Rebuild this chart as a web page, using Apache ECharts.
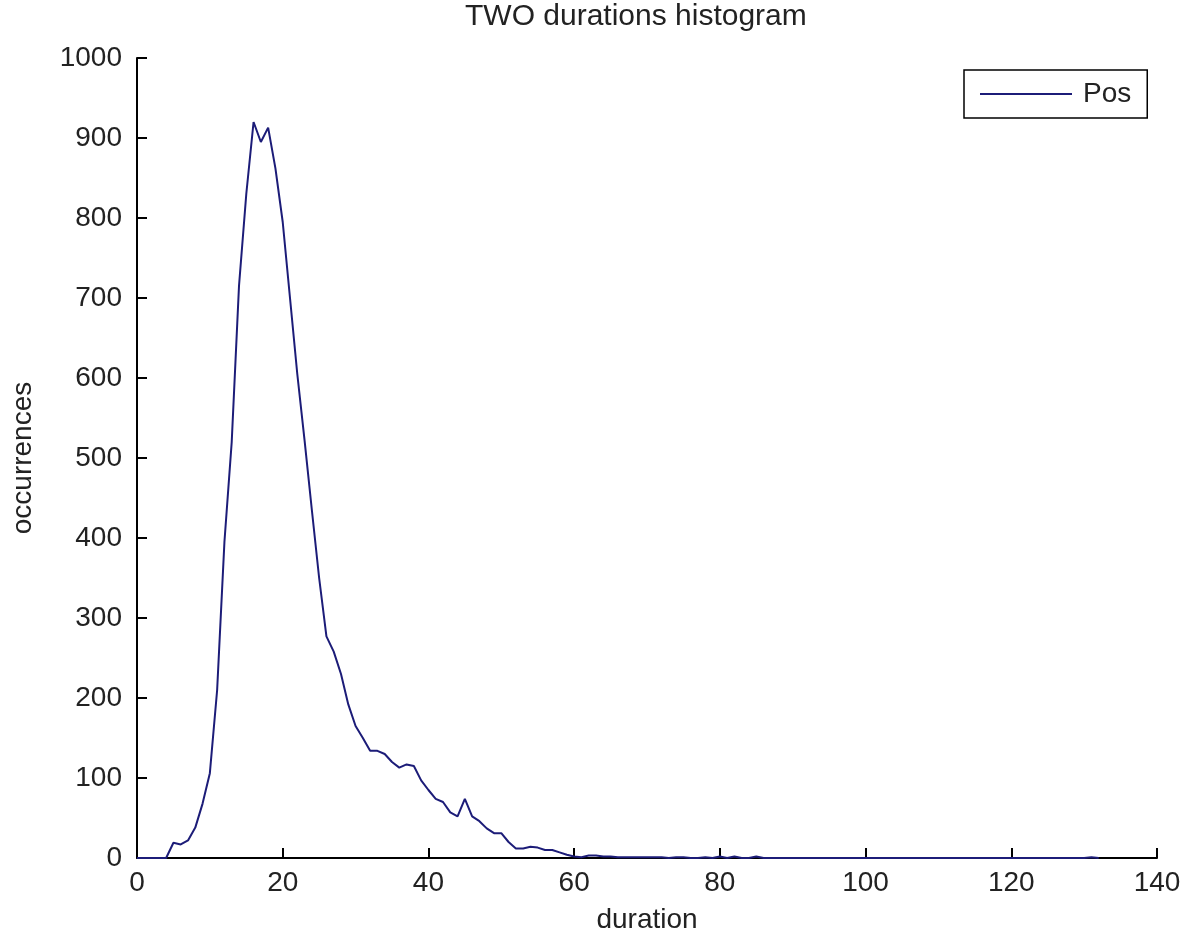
<!DOCTYPE html>
<html>
<head>
<meta charset="utf-8">
<title>TWO durations histogram</title>
<script src="https://cdn.jsdelivr.net/npm/echarts@6/dist/echarts.min.js"></script>
<style>
  html, body { margin: 0; padding: 0; background: #fff; }
  #histo { width: 1196px; height: 936px; }
</style>
</head>
<body>
<div id="histo"></div>
<script>
  // occurrences per duration bin (bin = 0, 1, 2, ...)
  var occurrences = [
    0, 0, 0, 0, 0, 19, 17, 22, 38, 68,
    106, 210, 395, 520, 715, 830, 920, 895, 913, 862,
    795, 700, 605, 522, 435, 350, 277, 258, 230, 192,
    165, 150, 134, 134, 130, 120, 113, 117, 115, 97,
    85, 74, 70, 57, 52, 74, 52, 46, 37, 31,
    31, 20, 12, 12, 14, 13, 10, 10, 7, 4,
    2, 1, 3, 3, 2, 2, 1, 1, 1, 1,
    1, 1, 1, 0, 1, 1, 0, 0, 1, 0,
    2, 0, 2, 0, 0, 2, 0, 0, 0, 0,
    0, 0, 0, 0, 0, 0, 0, 0, 0, 0,
    0, 0, 0, 0, 0, 0, 0, 0, 0, 0,
    0, 0, 0, 0, 0, 0, 0, 0, 0, 0,
    0, 0, 0, 0, 0, 0, 0, 0, 0, 0,
    0, 1, 0
  ];
  var xTicks = [0, 20, 40, 60, 80, 100, 120, 140];
  var yTicks = [0, 100, 200, 300, 400, 500, 600, 700, 800, 900, 1000];
  var seriesName = 'Pos';

  var font = 'Liberation Sans, Arial, Helvetica, sans-serif';
  var lineColor = '#1c1c78';

  var chart = echarts.init(document.getElementById('histo'));
  chart.setOption({
    animation: false,
    backgroundColor: '#fff',
    textStyle: { fontFamily: font },
    title: {
      text: 'TWO durations histogram',
      left: 460,
      top: -3,
      textStyle: { fontSize: 30, fontWeight: 'normal', color: '#222', fontFamily: font }
    },
    legend: {
      data: [{ name: seriesName, icon: 'rect' }],
      left: 964,
      top: 70,
      orient: 'vertical',
      borderColor: '#000',
      borderWidth: 1.5,
      padding: [10, 16, 10, 16],
      itemWidth: 92,
      itemHeight: 2,
      itemStyle: { color: lineColor },
      textStyle: { fontSize: 28, color: '#222', fontFamily: font, padding: [0, 0, 0, 6] }
    },
    grid: { left: 137, right: 39, top: 58, bottom: 78, outerBoundsMode: 'none', containLabel: false },
    xAxis: {
      type: 'value',
      min: xTicks[0],
      max: xTicks[xTicks.length - 1],
      interval: 20,
      name: 'duration',
      nameLocation: 'middle',
      nameGap: 48,
      nameTextStyle: { fontSize: 28, color: '#222', fontFamily: font },
      axisLine: { lineStyle: { color: '#000', width: 2 } },
      axisTick: { inside: true, length: 10, lineStyle: { color: '#000', width: 2 } },
      axisLabel: { fontSize: 28, color: '#222', margin: 11, fontFamily: font },
      splitLine: { show: false }
    },
    yAxis: {
      type: 'value',
      min: yTicks[0],
      max: yTicks[yTicks.length - 1],
      interval: 100,
      name: 'occurrences',
      nameLocation: 'middle',
      nameGap: 100,
      nameTextStyle: { fontSize: 28, color: '#222', fontFamily: font },
      axisLine: { show: true, lineStyle: { color: '#000', width: 2 } },
      axisTick: { show: true, inside: true, length: 10, lineStyle: { color: '#000', width: 2 } },
      axisLabel: {
        fontSize: 28, color: '#222', margin: 15, fontFamily: font,
        formatter: function (v) { return String(v); }
      },
      splitLine: { show: false }
    },
    series: [{
      name: seriesName,
      type: 'line',
      symbol: 'none',
      showSymbol: false,
      color: lineColor,
      lineStyle: { width: 2, color: lineColor },
      data: occurrences.map(function (v, i) { return [i, v]; })
    }]
  });
</script>
</body>
</html>
